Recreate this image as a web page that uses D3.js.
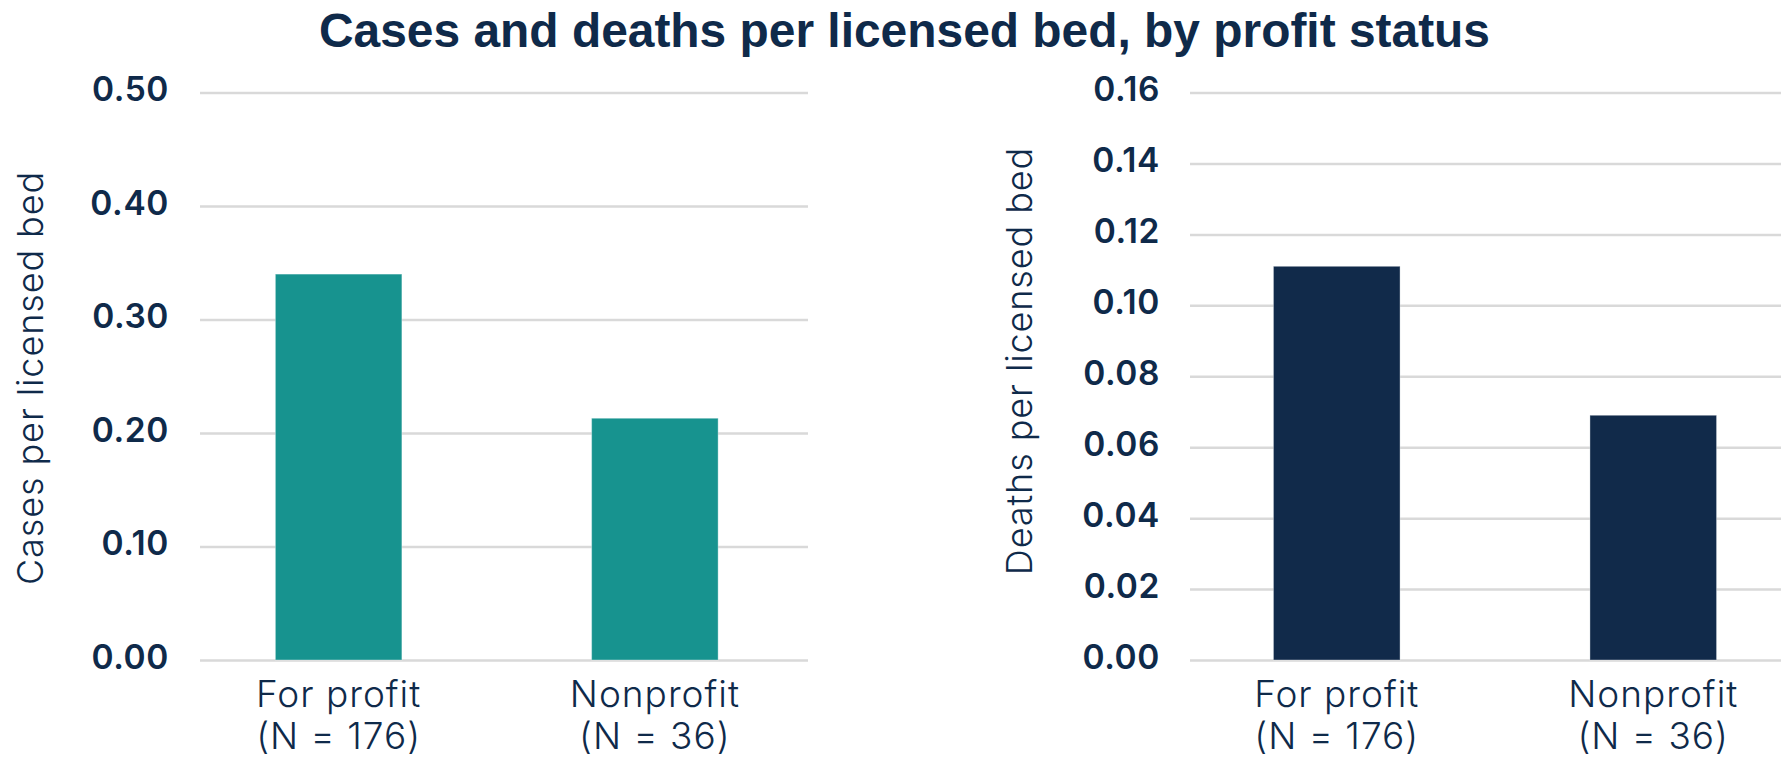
<!DOCTYPE html>
<html>
<head>
<meta charset="utf-8">
<script src="https://cdn.jsdelivr.net/npm/d3@7"></script>
<style>
  html, body { margin: 0; padding: 0; background: #ffffff; }
  svg { display: block; }
</style>
</head>
<body>
<div id="chart"></div>
<script>
const WIDTH = 1781
const HEIGHT = 759

// data
const categories = ['For profit', 'Nonprofit']
const sampleSizes = ['(N = 176)', '(N = 36)']
const casesPerBed = [0.340, 0.213]
const deathsPerBed = [0.111, 0.069]
const casesTicks = [0, 0.1, 0.2, 0.3, 0.4, 0.5]
const deathsTicks = [0, 0.02, 0.04, 0.06, 0.08, 0.10, 0.12, 0.14, 0.16]

const NAVY = '#0f2a4a'
const GRID = '#d9d9d9'

const svg = d3.select('#chart').append('svg')
  .attr('width', WIDTH)
  .attr('height', HEIGHT)

// title
svg.append('text')
  .attr('x', 904.5)
  .attr('y', 47)
  .attr('text-anchor', 'middle')
  .attr('font-family', '"Liberation Sans", Arial, sans-serif')
  .attr('font-weight', 700)
  .attr('font-size', 47.9)
  .attr('fill', NAVY)
  .text('Cases and deaths per licensed bed, by profit status')

// one panel = gridlines + ticks + bars + category labels + y title
function drawPanel(opts) {
  const g = svg.append('g')

  const y = d3.scaleLinear()
    .domain([0, d3.max(opts.ticks)])
    .range([660, 92.5])

  const x = d3.scaleBand()
    .domain(categories)
    .range(opts.xRange)
    .paddingInner(0.6)
    .paddingOuter(0.3)

  // GRIDLINES
  g.append('g')
    .attr('transform', `translate(${opts.gridX0}, 0)`)
    .call(d3.axisRight(y).tickValues(opts.ticks).tickSize(opts.gridX1 - opts.gridX0).tickFormat(''))
    .call(a => a.select('.domain').remove())
    .call(a => a.selectAll('line').attr('stroke', GRID).attr('stroke-width', 2.5))

  // TICK LABELS
  g.append('g')
    .attr('transform', `translate(${opts.labelX}, -2.5)`)
    .call(d3.axisLeft(y).tickValues(opts.ticks).tickSize(0).tickPadding(0).tickFormat(d3.format('.2f')))
    .call(a => a.select('.domain').remove())
    .call(a => a.selectAll('text')
      .attr('font-family', 'Inter, "Open Sans", sans-serif')
      .attr('font-weight', 600)
      .attr('font-size', 33.5)
      .attr('letter-spacing', 0.6)
      .attr('fill', NAVY))

  // BARS
  g.selectAll('rect.bar')
    .data(opts.values)
    .enter().append('rect')
      .attr('class', 'bar')
      .attr('x', (d, i) => x(categories[i]))
      .attr('width', x.bandwidth())
      .attr('y', d => y(d))
      .attr('height', d => y(0) - y(d))
      .attr('fill', opts.color)
      .attr('stroke', 'rgba(255,255,255,0.35)')
      .attr('stroke-width', 1)

  // CATEGORY LABELS (two lines)
  const xAxis = g.append('g')
    .attr('transform', 'translate(0, 660)')
    .call(d3.axisBottom(x).tickSize(0).tickPadding(0))
  xAxis.select('.domain').remove()
  xAxis.selectAll('text')
    .attr('font-family', 'Inter, "Open Sans", sans-serif')
    .attr('font-weight', 300)
    .attr('font-size', 37)
    .attr('letter-spacing', 1)
    .attr('fill', NAVY)
    .attr('dy', null)
    .attr('y', 0)
    .text(null)
    .each(function(d, i) {
      const t = d3.select(this)
      t.append('tspan').attr('x', 0).attr('y', 47).text(d)
      t.append('tspan').attr('x', 0).attr('y', 89).text(sampleSizes[i])
    })

  // Y TITLE
  g.append('text')
    .attr('transform', `translate(${opts.titleX}, ${opts.titleY}) rotate(-90)`)
    .attr('text-anchor', 'middle')
    .attr('font-family', 'Inter, "Open Sans", sans-serif')
    .attr('font-weight', 300)
    .attr('font-size', 36)
    .attr('letter-spacing', 0.9)
    .attr('fill', NAVY)
    .text(opts.title)
}

drawPanel({
  values: casesPerBed,
  ticks: casesTicks,
  color: '#17938f',
  xRange: [180.5, 813],
  gridX0: 200,
  gridX1: 808,
  labelX: 169,
  titleX: 43,
  titleY: 378,
  title: 'Cases per licensed bed'
})

drawPanel({
  values: deathsPerBed,
  ticks: deathsTicks,
  color: '#112a4a',
  xRange: [1178.5, 1811.5],
  gridX0: 1190,
  gridX1: 1800,
  labelX: 1160,
  titleX: 1032,
  titleY: 361,
  title: 'Deaths per licensed bed'
})
</script>
</body>
</html>
